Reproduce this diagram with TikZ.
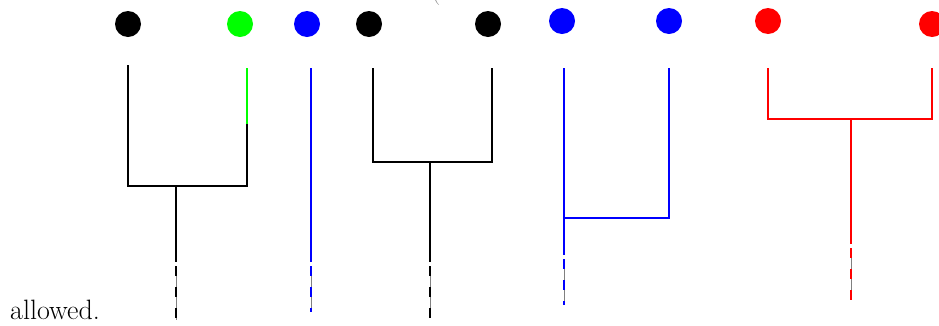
\documentclass[tikz,border=0pt]{standalone}
\usepackage{tikz}
\usetikzlibrary{calc,positioning}

\begin{document}
\begin{tikzpicture}[
  x=1pt, y=-1pt,
  leaf/.style={circle, fill, minimum size=26pt, inner sep=0pt},
  br/.style={line width=2.4pt, line join=miter},
  tail/.style={line width=2.4pt, dash pattern=on 10pt off 11pt,
    preaction={draw=gray, line width=0.9pt, solid}}
]
  \useasboundingbox (0,0) rectangle (939,325);

  % leaves
  \node[leaf, black] (a1) at (128,24) {};
  \node[leaf, green] (a2) at (240,24) {};
  \node[leaf, blue] (b1) at (307,24) {};
  \node[leaf, black] (c1) at (369,24) {};
  \node[leaf, black] (c2) at (488,24) {};
  \node[leaf, blue] (d1) at (562,21) {};
  \node[leaf, blue] (d2) at (669,21) {};
  \node[leaf, red] (e1) at (768,21) {};
  \node[leaf, red] (e2) at (932,24) {};

  % joins and stem ends
  \coordinate (ja) at (176,186);
  \coordinate (jc) at (430,162);
  \coordinate (jd) at (564,218);
  \coordinate (je) at (851,119);

  % tree a
  \draw[br] (128,65) |- (ja) -| (247,124) coordinate (ga);
  \draw[br, green] (ga) -- (247,68);
  \draw[br] (ja) -- (176,262);
  \draw[tail] (176,266) -- (176,320);

  % single b
  \draw[br, blue] (311,68) -- (311,262);
  \draw[tail, blue] (311,266) -- (311,312);

  % tree c
  \draw[br] (373,68) |- (jc) -| (492,68);
  \draw[br] (jc) -- (430,262);
  \draw[tail] (430,266) -- (430,318);

  % tree d
  \draw[br, blue] (564,68) -- (564,255);
  \draw[br, blue] (jd) -| (669,68);
  \draw[tail, blue] (564,259) -- (564,305);

  % tree e
  \draw[br, red] (768,68) |- (je) -| (932,68);
  \draw[br, red] (je) -- (851,244);
  \draw[tail, red] (851,248) -- (851,300);

  % text
  \node[anchor=base west, inner sep=0pt, font=\fontsize{28}{32}\selectfont] (txt) at (10,319) {allowed.};
  \node[anchor=base, inner sep=0pt, text=gray, font=\fontsize{24}{28}\selectfont] (par) at (436,-1) {(};
\end{tikzpicture}
\end{document}
